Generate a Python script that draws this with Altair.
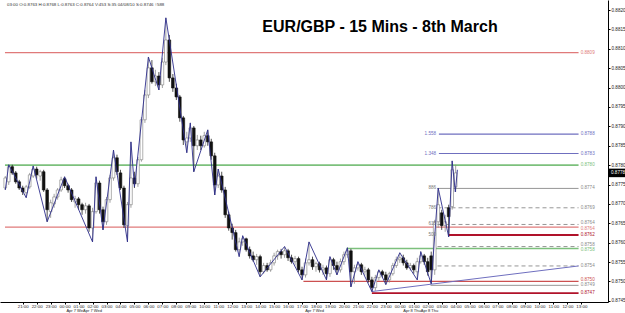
import altair as alt
import pandas as pd

# ---------------- data (EUR/GBP, 15-minute candles) ----------------
# candle 0 is 19:45 Apr 6; times are expressed in hours relative to 21:00 Apr 6
opens = [0.87741, 0.87757, 0.87796, 0.87780, 0.87757, 0.87741, 0.87729, 0.87744, 0.87772, 0.87790,
         0.87772, 0.87783, 0.87736, 0.87680, 0.87700, 0.87718, 0.87736, 0.87765, 0.87747, 0.87736,
         0.87705, 0.87713, 0.87698, 0.87685, 0.87695, 0.87638, 0.87680, 0.87754, 0.87685, 0.87654,
         0.87711, 0.87767, 0.87819, 0.87780, 0.87741, 0.87644, 0.87698, 0.87767, 0.87752, 0.87814,
         0.87917, 0.87981, 0.88051, 0.88015, 0.88030, 0.88007, 0.88066, 0.88123, 0.88025, 0.87999,
         0.87976, 0.87922, 0.87860, 0.87870, 0.87896, 0.87850, 0.87865, 0.87850, 0.87876, 0.87860,
         0.87824, 0.87749, 0.87772, 0.87736, 0.87672, 0.87638, 0.87626, 0.87582, 0.87602, 0.87610,
         0.87582, 0.87566, 0.87556, 0.87564, 0.87525, 0.87541, 0.87530, 0.87548, 0.87566, 0.87577,
         0.87569, 0.87579, 0.87561, 0.87551, 0.87559, 0.87530, 0.87517, 0.87548, 0.87556, 0.87538,
         0.87546, 0.87530, 0.87535, 0.87520, 0.87556, 0.87541, 0.87530, 0.87551, 0.87569, 0.87579,
         0.87525, 0.87535, 0.87543, 0.87525, 0.87530, 0.87504, 0.87484, 0.87510, 0.87525, 0.87517,
         0.87504, 0.87520, 0.87541, 0.87556, 0.87561, 0.87548, 0.87535, 0.87541, 0.87525, 0.87551,
         0.87566, 0.87551, 0.87566, 0.87530, 0.87654, 0.87677, 0.87644, 0.87690, 0.87693, 0.87744]
highs = [0.87772, 0.87801, 0.87801, 0.87785, 0.87762, 0.87747, 0.87749, 0.87780, 0.87798, 0.87796,
         0.87788, 0.87788, 0.87741, 0.87711, 0.87726, 0.87741, 0.87770, 0.87770, 0.87752, 0.87741,
         0.87721, 0.87718, 0.87703, 0.87703, 0.87700, 0.87690, 0.87770, 0.87760, 0.87693, 0.87718,
         0.87775, 0.87839, 0.87827, 0.87788, 0.87747, 0.87705, 0.87860, 0.87783, 0.87821, 0.87924,
         0.87994, 0.88079, 0.88071, 0.88046, 0.88040, 0.88077, 0.88180, 0.88136, 0.88035, 0.88010,
         0.87981, 0.87927, 0.87886, 0.87909, 0.87901, 0.87878, 0.87876, 0.87886, 0.87891, 0.87868,
         0.87832, 0.87790, 0.87783, 0.87744, 0.87680, 0.87649, 0.87633, 0.87613, 0.87618, 0.87613,
         0.87590, 0.87577, 0.87571, 0.87569, 0.87548, 0.87548, 0.87556, 0.87574, 0.87582, 0.87584,
         0.87590, 0.87584, 0.87569, 0.87566, 0.87564, 0.87538, 0.87559, 0.87602, 0.87564, 0.87551,
         0.87551, 0.87543, 0.87541, 0.87564, 0.87561, 0.87551, 0.87559, 0.87577, 0.87587, 0.87584,
         0.87543, 0.87551, 0.87548, 0.87538, 0.87535, 0.87512, 0.87517, 0.87530, 0.87530, 0.87525,
         0.87525, 0.87548, 0.87564, 0.87574, 0.87569, 0.87556, 0.87548, 0.87546, 0.87561, 0.87577,
         0.87571, 0.87561, 0.87577, 0.87659, 0.87741, 0.87685, 0.87672, 0.87698, 0.87811, 0.87801]
lows = [0.87736, 0.87749, 0.87775, 0.87752, 0.87736, 0.87723, 0.87716, 0.87739, 0.87767, 0.87765,
        0.87760, 0.87731, 0.87654, 0.87664, 0.87690, 0.87711, 0.87731, 0.87741, 0.87729, 0.87705,
        0.87690, 0.87685, 0.87672, 0.87675, 0.87628, 0.87602, 0.87675, 0.87675, 0.87633, 0.87646,
        0.87703, 0.87760, 0.87775, 0.87736, 0.87638, 0.87602, 0.87690, 0.87741, 0.87744, 0.87809,
        0.87909, 0.87973, 0.88010, 0.88004, 0.87994, 0.87999, 0.88058, 0.88015, 0.87989, 0.87968,
        0.87912, 0.87852, 0.87832, 0.87860, 0.87783, 0.87839, 0.87839, 0.87845, 0.87850, 0.87814,
        0.87723, 0.87741, 0.87729, 0.87664, 0.87631, 0.87608, 0.87577, 0.87564, 0.87592, 0.87577,
        0.87559, 0.87551, 0.87543, 0.87512, 0.87520, 0.87525, 0.87525, 0.87541, 0.87556, 0.87559,
        0.87561, 0.87553, 0.87546, 0.87541, 0.87523, 0.87504, 0.87510, 0.87541, 0.87530, 0.87525,
        0.87523, 0.87517, 0.87504, 0.87512, 0.87530, 0.87517, 0.87523, 0.87543, 0.87561, 0.87486,
        0.87494, 0.87528, 0.87517, 0.87515, 0.87497, 0.87474, 0.87476, 0.87502, 0.87510, 0.87492,
        0.87497, 0.87515, 0.87535, 0.87548, 0.87541, 0.87530, 0.87528, 0.87520, 0.87504, 0.87546,
        0.87543, 0.87515, 0.87494, 0.87517, 0.87638, 0.87633, 0.87628, 0.87615, 0.87685, 0.87731]
closes = [0.87767, 0.87796, 0.87780, 0.87757, 0.87741, 0.87731, 0.87744, 0.87775, 0.87790, 0.87775,
          0.87783, 0.87736, 0.87685, 0.87703, 0.87718, 0.87736, 0.87762, 0.87747, 0.87736, 0.87711,
          0.87713, 0.87698, 0.87685, 0.87695, 0.87638, 0.87680, 0.87754, 0.87685, 0.87654, 0.87711,
          0.87767, 0.87819, 0.87783, 0.87741, 0.87646, 0.87698, 0.87767, 0.87752, 0.87814, 0.87917,
          0.87981, 0.88051, 0.88015, 0.88030, 0.88007, 0.88066, 0.88123, 0.88025, 0.87999, 0.87976,
          0.87922, 0.87865, 0.87870, 0.87896, 0.87850, 0.87865, 0.87850, 0.87876, 0.87860, 0.87824,
          0.87749, 0.87772, 0.87736, 0.87672, 0.87638, 0.87626, 0.87582, 0.87602, 0.87610, 0.87582,
          0.87566, 0.87556, 0.87564, 0.87525, 0.87541, 0.87530, 0.87548, 0.87566, 0.87577, 0.87569,
          0.87579, 0.87561, 0.87551, 0.87559, 0.87530, 0.87517, 0.87548, 0.87556, 0.87538, 0.87546,
          0.87530, 0.87535, 0.87520, 0.87556, 0.87541, 0.87530, 0.87551, 0.87569, 0.87579, 0.87525,
          0.87535, 0.87543, 0.87525, 0.87530, 0.87504, 0.87484, 0.87510, 0.87525, 0.87517, 0.87504,
          0.87520, 0.87541, 0.87556, 0.87561, 0.87548, 0.87535, 0.87541, 0.87530, 0.87551, 0.87566,
          0.87551, 0.87525, 0.87530, 0.87654, 0.87698, 0.87644, 0.87654, 0.87667, 0.87788, 0.87780]

# ZigZag pivots (candle index, price)
zz_idx = [0, 1, 6, 8, 12, 17, 25, 26, 28, 31, 35, 36, 37, 41, 44, 46, 52, 53, 54, 58,
          60, 61, 67, 68, 73, 80, 85, 87, 92, 93, 95, 98, 99, 101, 105, 107, 109, 113, 118, 119,
          122, 124, 127, 128, 128.9, 129.5]
zz_price = [0.87736, 0.87801, 0.87716, 0.87798, 0.87654, 0.87770, 0.87602, 0.87770, 0.87633, 0.87839,
            0.87602, 0.87860, 0.87744, 0.88079, 0.87994, 0.88180, 0.87832, 0.87909, 0.87783, 0.87891,
            0.87723, 0.87790, 0.87564, 0.87618, 0.87512, 0.87590, 0.87504, 0.87602, 0.87504, 0.87564,
            0.87517, 0.87587, 0.87486, 0.87551, 0.87474, 0.87530, 0.87492, 0.87574, 0.87504, 0.87577,
            0.87494, 0.87741, 0.87615, 0.87811, 0.87731, 0.87788]

# Horizontal levels (hours relative to 21:00 Apr 6)
level_price = [0.8809, 0.8788, 0.8783, 0.8780, 0.8774, 0.8769, 0.87647, 0.8764, 0.8762,
               0.8759, 0.87585, 0.8754, 0.8750, 0.8749, 0.8747]
level_text = ["0.8809", "0.8788", "0.8783", "0.8780", "0.8774", "0.8769", "0.8764", "0.8764", "0.8762",
              "0.8758", "0.8758", "0.8754", "0.8750", "0.8749", "0.8747"]
level_label_price = [0.8809, 0.8788, 0.8783, 0.8780, 0.8774, 0.8769, 0.87652, 0.87636, 0.8762,
                     0.87594, 0.87580, 0.8754, 0.87503, 0.87490, 0.8747]
level_start = [-1.27, 29.8, 29.8, -1.27, 29.7, 29.7, 29.7, -1.27, 30.5,
               29.7, 23.2, 29.7, 20.1, 29.2, 25.0]
level_end = 39.8
level_color = ["#e07a7a", "#6f6fbf", "#6f6fbf", "#7cc07c", "#8a8a8a", "#8a8a8a", "#8a8a8a", "#e07a7a", "#b0122a",
               "#8a8a8a", "#7cc07c", "#8a8a8a", "#cc5050", "#8a8a8a", "#b0122a"]
level_width = [1.3, 1.2, 1.2, 1.6, 0.9, 0.9, 0.9, 1.3, 2.0, 0.9, 1.6, 0.9, 1.2, 0.9, 1.6]
level_dashed = [False, False, False, False, False, True, True, False, False,
                True, False, True, False, False, False]

fib_text = ["1.558", "1.348", "886", "786", "618", "500"]
fib_price = [0.8788, 0.8783, 0.8774, 0.8769, 0.87647, 0.8762]
fib_color = ["#6f6fbf", "#6f6fbf", "#777777", "#777777", "#777777", "#777777"]
fib_h = 29.6

trend_h = [25.0, 39.8]
trend_price = [0.87474, 0.8754]

y_ticks = [0.8745, 0.8750, 0.8755, 0.8760, 0.8765, 0.8770, 0.8775, 0.8780, 0.8785,
           0.8790, 0.8795, 0.8800, 0.8805, 0.8810, 0.8815, 0.8820]
x_ticks = list(range(0, 41))

date_text = ["Apr 7 WeApr 7 Wed", "Apr 7 Wed", "Apr 8 ThuApr 8 Thu"]
date_h = [4.4, 20.9, 28.5]

last_price = 0.8778
title_text = "EUR/GBP - 15 Mins - 8th March"
info_text = "03:00  O:0.8763  H:0.8768  L:0.8763  C:0.8764  V:453  S:35  04/08/10  S:0.8746  ↑588"

# ---------------- tables ----------------
candles = pd.DataFrame({"open": opens, "high": highs, "low": lows, "close": closes})
candles["h"] = -1.25 + 0.25 * candles.index
candles["up"] = candles["close"] >= candles["open"]

zz = pd.DataFrame({"h": [-1.25 + 0.25 * i for i in zz_idx], "price": zz_price})

levels = pd.DataFrame({"price": level_price, "start": level_start, "end": level_end,
                       "color": level_color, "w": level_width, "dashed": level_dashed,
                       "label": level_text, "lp": level_label_price})
levels["lx"] = level_end + 0.15

fibs = pd.DataFrame({"label": fib_text, "price": fib_price, "color": fib_color, "h": fib_h})
trend = pd.DataFrame({"h": trend_h, "price": trend_price})
dates = pd.DataFrame({"label": date_text, "h": date_h})
lastdf = pd.DataFrame({"p": [last_price], "p1": [last_price + 0.00011], "p2": [last_price - 0.00011],
                       "label": [f"{last_price:.4f}"]})

FONT = "Liberation Sans"
xscale = alt.Scale(domain=[-1.268, 41.55], nice=False, zero=False)
yscale = alt.Scale(domain=[0.87447, 0.88226], nice=False, zero=False)
x_axis = alt.Axis(values=x_ticks, title=None, grid=False, tickSize=2, labelFontSize=4.4,
                  labelPadding=0.5, labelColor="#222", domainColor="#000", tickColor="#000",
                  labelFont=FONT, labelFlush=False, labelOverlap=False,
                  labelExpr="(((datum.value + 21) % 24) < 10 ? '0' : '') + ((datum.value + 21) % 24) + ':00'")
y_axis = alt.Axis(values=y_ticks, orient="right", title=None, grid=False, tickSize=2, labelFontSize=4.6,
                  labelPadding=1, labelColor="#222", domainColor="#000", tickColor="#000",
                  labelFont=FONT, format=".4f", labelOverlap=False)


def X(f):
    return alt.X(f, scale=xscale, axis=x_axis)


def Y(f):
    return alt.Y(f, scale=yscale, axis=y_axis)


solid = alt.Chart(levels).transform_filter("!datum.dashed").mark_rule().encode(
    x=X("start:Q"), x2="end:Q", y=Y("price:Q"),
    color=alt.Color("color:N", scale=None), strokeWidth=alt.StrokeWidth("w:Q", scale=None))
dashed = alt.Chart(levels).transform_filter("datum.dashed").mark_rule(strokeDash=[4, 3]).encode(
    x=X("start:Q"), x2="end:Q", y=Y("price:Q"),
    color=alt.Color("color:N", scale=None), strokeWidth=alt.StrokeWidth("w:Q", scale=None))
level_labels = alt.Chart(levels).mark_text(align="left", baseline="middle", fontSize=4.6, font=FONT).encode(
    x=X("lx:Q"), y=Y("lp:Q"), text="label:N", color=alt.Color("color:N", scale=None))
fib_labels = alt.Chart(fibs).mark_text(align="right", baseline="middle", fontSize=4.6, font=FONT).encode(
    x=X("h:Q"), y=Y("price:Q"), text="label:N", color=alt.Color("color:N", scale=None))
trend_line = alt.Chart(trend).mark_line(color="#6f6fbf", strokeWidth=1).encode(x=X("h:Q"), y=Y("price:Q"))

wicks = alt.Chart(candles).mark_rule(strokeWidth=0.8).encode(
    x=X("h:Q"), y=Y("low:Q"), y2="high:Q",
    color=alt.condition("datum.up", alt.value("#8a8a8a"), alt.value("#222222")))
bodies = alt.Chart(candles).mark_bar(size=2.7, strokeWidth=0.6).encode(
    x=X("h:Q"), y=Y("open:Q"), y2="close:Q",
    fill=alt.condition("datum.up", alt.value("#ffffff"), alt.value("#111111")),
    stroke=alt.condition("datum.up", alt.value("#7a7a7a"), alt.value("#111111")))
zigzag = alt.Chart(zz).mark_line(color="#2e2e8c", strokeWidth=0.9).encode(x=X("h:Q"), y=Y("price:Q"))

date_labels = alt.Chart(dates).mark_text(align="center", baseline="middle", fontSize=4.0,
                                         font=FONT, color="#222").encode(
    x=X("h:Q"), y=alt.value(311.3), text="label:N")

price_box = alt.Chart(lastdf).mark_rect(color="#000000").encode(
    x=alt.value(609), x2=alt.value(625), y=Y("p1:Q"), y2="p2:Q")
price_text = alt.Chart(lastdf).mark_text(align="left", baseline="middle", fontSize=4.6,
                                         font=FONT, color="#ffffff").encode(
    x=alt.value(611), y=Y("p:Q"), text="label:N")

one = pd.DataFrame({"t": [title_text], "i": [info_text]})
title = alt.Chart(one).mark_text(align="center", baseline="middle", fontSize=16, fontWeight="bold",
                                 font=FONT, color="#000").encode(
    x=alt.value(380), y=alt.value(27), text="t:N")
info = alt.Chart(one).mark_text(align="left", baseline="middle", fontSize=4.4,
                                font=FONT, color="#333").encode(
    x=alt.value(7), y=alt.value(5), text="i:N")

chart = alt.layer(
    solid, dashed, trend_line, wicks, bodies, zigzag,
    level_labels, fib_labels, date_labels, price_box, price_text, title, info
).properties(
    width=608, height=302,
    autosize=alt.AutoSizeParams(type="none"),
    padding={"left": 0, "top": 0, "right": 17, "bottom": 11},
    background="white",
).configure_view(strokeWidth=0)

chart.save("out.html", embed_options={"renderer": "svg", "actions": False})
